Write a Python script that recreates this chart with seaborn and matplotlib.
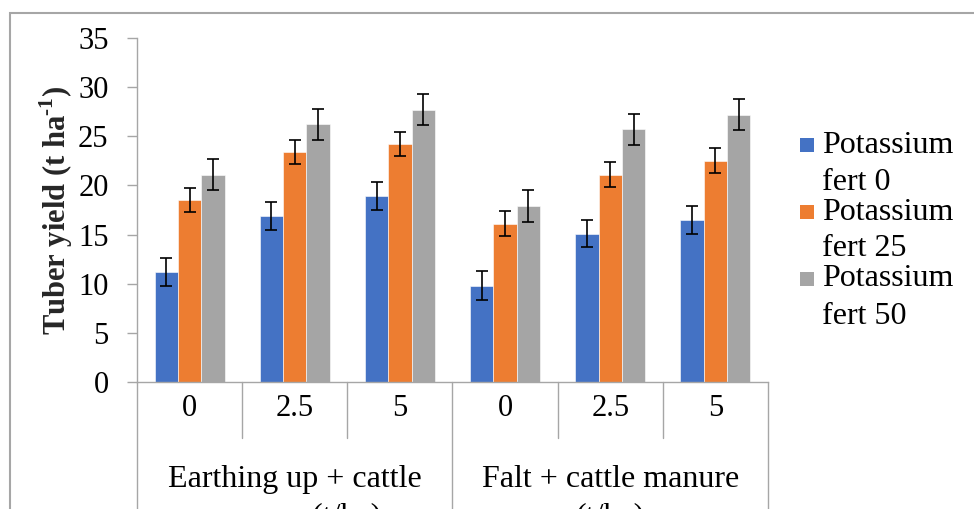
import matplotlib
matplotlib.use("Agg")
import matplotlib.pyplot as plt
from matplotlib.patches import Rectangle
from matplotlib.transforms import blended_transform_factory
import seaborn as sns
import pandas as pd

# ---- data -------------------------------------------------------------
group_lines = [["Earthing up + cattle", "manure (t/ha)"],
               ["Falt + cattle manure", "(t/ha)"]]
doses = ["0", "2.5", "5"]
series = ["Potassium fert 0", "Potassium fert 25", "Potassium fert 50"]

yield_k0 = [11.2, 16.9, 18.9, 9.8, 15.1, 16.5]
yield_k25 = [18.5, 23.4, 24.2, 16.1, 21.1, 22.5]
yield_k50 = [21.1, 26.2, 27.7, 17.9, 25.7, 27.2]

err_k0 = [1.4, 1.4, 1.4, 1.45, 1.4, 1.45]
err_k25 = [1.25, 1.25, 1.25, 1.27, 1.27, 1.27]
err_k50 = [1.6, 1.6, 1.6, 1.65, 1.6, 1.6]

colors = ["#4472C4", "#ED7D31", "#A5A5A5"]
yticks = [0, 5, 10, 15, 20, 25, 30, 35]

# ---- table ------------------------------------------------------------
slots = [f"{g[0].split()[0]} {d}" for g in group_lines for d in doses]
rows = []
for name, vals in zip(series, [yield_k0, yield_k25, yield_k50]):
    for slot, v in zip(slots, vals):
        rows.append({"slot": slot, "series": name, "yield": v})
df = pd.DataFrame(rows)

# ---- figure -----------------------------------------------------------
sns.set_theme(style="white")
SERIF = "Liberation Serif"
plt.rcParams["font.family"] = SERIF
plt.rcParams["mathtext.fontset"] = "custom"
plt.rcParams["mathtext.rm"] = SERIF
plt.rcParams["mathtext.bf"] = SERIF + ":bold"

W, H = 974, 509
fig = plt.figure(figsize=(W / 100, H / 100), dpi=100)
ax = fig.add_axes([137 / W, 1 - 382 / H, 631 / W, 344 / H])

sns.barplot(data=df, x="slot", y="yield", hue="series", order=slots,
            hue_order=series, palette=colors, width=0.665, gap=0,
            errorbar=None, saturation=1, edgecolor="white", linewidth=0.4,
            legend=False, ax=ax)

# error bars placed at the centre of each drawn bar
for container, errs in zip(ax.containers, [err_k0, err_k25, err_k50]):
    xs = [b.get_x() + b.get_width() / 2 for b in container]
    hs = [b.get_height() for b in container]
    ax.errorbar(xs, hs, yerr=errs, fmt="none", ecolor="black",
                elinewidth=1.2, capsize=4.5, capthick=1.2, zorder=5)

FS = 22
FS_L = 23
ax.set_xlim(-0.5, 5.5)
ax.set_ylim(0, 35)
ax.set_yticks(yticks)
ax.set_yticklabels([str(t) for t in yticks], fontsize=FS, color="black",
                   family=SERIF)
ax.tick_params(axis="y", length=7, width=1, color="#A6A6A6", pad=13.5,
               left=True)
ax.set_xticks(range(len(slots)))
ax.set_xticklabels(doses * len(group_lines), fontsize=FS, color="black",
                   family=SERIF)
ax.tick_params(axis="x", length=0, pad=9)
ax.set_xlabel("")
ax.set_ylabel("Tuber yield (t ha$^{\\mathbf{\u2010}\\mathbf{1}}$)",
              fontsize=FS, fontweight="bold", family=SERIF, labelpad=2)

for side in ["top", "right"]:
    ax.spines[side].set_visible(False)
for side in ["left", "bottom"]:
    ax.spines[side].set_color("#A6A6A6")
    ax.spines[side].set_linewidth(1)

# hierarchical category axis: separators and group labels
tr = blended_transform_factory(ax.transData, ax.transAxes)
for k in range(len(slots) + 1):
    xb = k - 0.5
    major = k % len(doses) == 0
    ax.plot([xb, xb], [0, -0.5 if major else -0.163], transform=tr,
            color="#A6A6A6", lw=1, clip_on=False)
for gi, lines in enumerate(group_lines):
    xc = gi * len(doses) + (len(doses) - 1) / 2
    for li, line in enumerate(lines):
        ax.text(xc, -0.305 - li * 0.108, line, transform=tr, ha="center",
                va="baseline", fontsize=FS_L, color="black", family=SERIF)

# legend drawn as swatches with wrapped labels
for i, (name, c) in enumerate(zip(series, colors)):
    ytop = 145 + i * 67
    fig.add_artist(Rectangle((800 / W, 1 - (ytop + 7) / H), 14 / W, 14 / H,
                             transform=fig.transFigure, facecolor=c,
                             edgecolor="none"))
    words = name.split()
    fig.text(822 / W, 1 - ytop / H, words[0], ha="left", va="center",
             fontsize=FS_L, color="black", family=SERIF)
    fig.text(822 / W, 1 - (ytop + 37) / H, " ".join(words[1:]),
             ha="left", va="center", fontsize=FS_L, color="black",
             family=SERIF)

# outer chart frame
fig.add_artist(Rectangle((9.5 / W, -0.1), 1.1, 1.1 - 12.5 / H,
                         transform=fig.transFigure, fill=False,
                         edgecolor="#A6A6A6", linewidth=1.5))

fig.savefig("out.png", dpi=100)
